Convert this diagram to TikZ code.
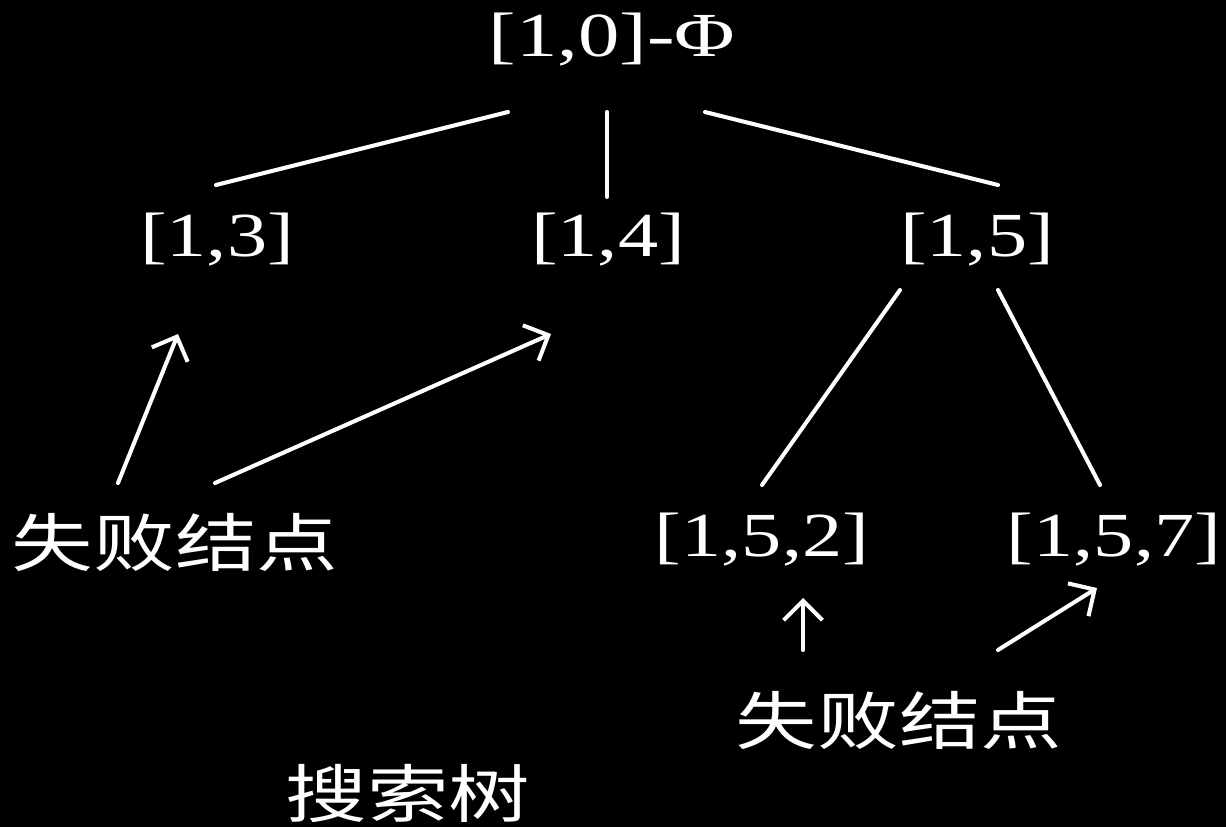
\documentclass[tikz,border=0pt]{standalone}
\usepackage{fontspec}
\setmainfont{Liberation Serif}
\newfontfamily\cjk{Noto Sans CJK SC}
\usetikzlibrary{arrows.meta}
\tikzset{
  lbl/.style={text=white, inner sep=0pt, font=\fontsize{35.7}{40}\selectfont, xscale=1.28},
  cn/.style={text=white, inner sep=0pt, font=\cjk\fontsize{36}{40}\selectfont, xscale=1.29},
  edge/.style={draw=white, line width=2.3pt, line cap=round},
  arr/.style={edge, -{Straight Barb[length=11pt, width=22pt, line width=2.3pt]}}
}
\begin{document}
\begin{tikzpicture}[x=0.02cm, y=-0.02cm]
\fill[black] (0,0) rectangle (1226,827);
\useasboundingbox (0,0) rectangle (1226,827);
% nodes
\node[lbl, xscale=1.03] (root) at (612,40) {[1,0]-Φ};
\node[lbl] (n13) at (217,240) {[1,3]};
\node[lbl] (n14) at (608,240) {[1,4]};
\node[lbl] (n15) at (977,240) {[1,5]};
\node[lbl] (n152) at (762,540) {[1,5,2]};
\node[lbl] (n157) at (1114,540) {[1,5,7]};
\node[cn] (f1) at (175,542) {失败结点};
\node[cn] (f2) at (899,720) {失败结点};
\node[cn] (tree) at (408,793) {搜索树};
% edge end points
\coordinate (rA) at (508,112); \coordinate (c13) at (216,185);
\coordinate (rB) at (607,112); \coordinate (c14) at (607,197);
\coordinate (rC) at (705,112); \coordinate (c15) at (998,185);
\coordinate (p15a) at (900,290); \coordinate (c152) at (762,485);
\coordinate (p15b) at (998,290); \coordinate (c157) at (1100,485);
\coordinate (fa) at (118,483); \coordinate (ta) at (178,334);
\coordinate (fb) at (215,483); \coordinate (tb) at (551,334);
\coordinate (fc) at (803,650); \coordinate (tc) at (803,598);
\coordinate (fd) at (998,650); \coordinate (td) at (1097,588);
% tree edges
\draw[edge] (rA) -- (c13);
\draw[edge] (rB) -- (c14);
\draw[edge] (rC) -- (c15);
\draw[edge] (p15a) -- (c152);
\draw[edge] (p15b) -- (c157);
% arrows
\draw[arr] (fa) -- (ta);
\draw[arr] (fb) -- (tb);
\draw[arr] (fc) -- (tc);
\draw[arr] (fd) -- (td);
\end{tikzpicture}
\end{document}
